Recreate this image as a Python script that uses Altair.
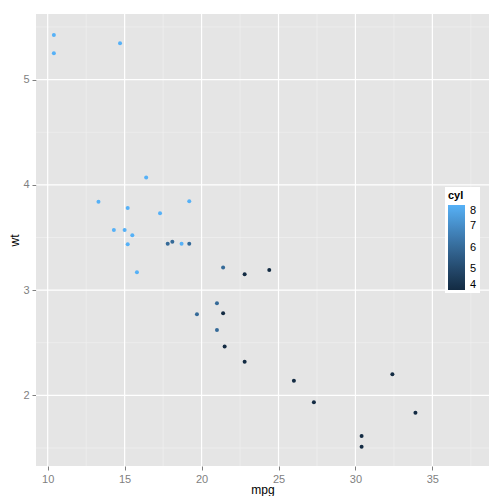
import altair as alt
import pandas as pd

mpg = [21.0, 21.0, 22.8, 21.4, 18.7, 18.1, 14.3, 24.4, 22.8, 19.2, 17.8, 16.4, 17.3, 15.2, 10.4, 10.4,
       14.7, 32.4, 30.4, 33.9, 21.5, 15.5, 15.2, 13.3, 19.2, 27.3, 26.0, 30.4, 15.8, 19.7, 15.0, 21.4]
cyl = [6, 6, 4, 6, 8, 6, 8, 4, 4, 6, 6, 8, 8, 8, 8, 8,
       8, 4, 4, 4, 4, 8, 8, 8, 8, 4, 4, 4, 8, 6, 8, 4]
wt = [2.620, 2.875, 2.320, 3.215, 3.440, 3.460, 3.570, 3.190, 3.150, 3.440, 3.440, 4.070, 3.730, 3.780,
      5.250, 5.424, 5.345, 2.200, 1.615, 1.835, 2.465, 3.520, 3.435, 3.840, 3.845, 1.935, 2.140, 1.513,
      3.170, 2.770, 3.570, 2.780]

x_major = [10, 15, 20, 25, 30, 35]
x_minor = [12.5, 17.5, 22.5, 27.5, 32.5, 37.5]
y_major = [2, 3, 4, 5]
y_minor = [1.5, 2.5, 3.5, 4.5, 5.5]
legend_values = [4, 5, 6, 7, 8]

df = pd.DataFrame({"mpg": mpg, "wt": wt, "cyl": cyl})

xs = alt.Scale(domain=[9.24, 38.68], nice=False, zero=False)
ys = alt.Scale(domain=[1.329, 5.623], nice=False, zero=False)

vminor = alt.Chart(pd.DataFrame({"v": x_minor})).mark_rule(color="#F2F2F2", strokeWidth=0.6).encode(
    x=alt.X("v:Q", scale=xs))
hminor = alt.Chart(pd.DataFrame({"v": y_minor})).mark_rule(color="#F2F2F2", strokeWidth=0.6).encode(
    y=alt.Y("v:Q", scale=ys))
vmajor = alt.Chart(pd.DataFrame({"v": x_major})).mark_rule(color="white", strokeWidth=1.2).encode(
    x=alt.X("v:Q", scale=xs))
hmajor = alt.Chart(pd.DataFrame({"v": y_major})).mark_rule(color="white", strokeWidth=1.2).encode(
    y=alt.Y("v:Q", scale=ys))

pts = alt.Chart(df).mark_circle(size=16, opacity=1).encode(
    x=alt.X("mpg:Q", scale=xs, axis=alt.Axis(values=x_major, title="mpg", format="d",
                                              titleY=27, titleBaseline="alphabetic")),
    y=alt.Y("wt:Q", scale=ys, axis=alt.Axis(values=y_major, title="wt", format="d")),
    color=alt.Color("cyl:Q", scale=alt.Scale(domain=[4, 8], range=["#132B43", "#56B1F7"]),
                    legend=alt.Legend(orient="none", legendX=409, legendY=173, gradientLength=85,
                                      gradientThickness=17, values=legend_values, format="d",
                                      labelOverlap=False, labelBaseline="middle", labelOffset=5,
                                      fillColor="white", padding=3, titleFontSize=11,
                                      titleFontWeight="bold", labelFontSize=11, labelColor="black",
                                      titlePadding=4,
                                      direction="vertical", gradientStrokeWidth=0)),
)

chart = alt.layer(vminor, hminor, vmajor, hmajor, pts).properties(
    width=453, height=452,
    autosize=alt.AutoSizeParams(type="none"),
    padding={"left": 28, "top": 6, "right": 7, "bottom": 30},
).configure_view(fill="#E5E5E5", stroke=None).configure_axis(
    grid=False, domain=False, tickColor="#7F7F7F", tickSize=4, labelColor="#7F7F7F",
    labelFontSize=11, labelFont="Liberation Sans", titleFont="Liberation Sans",
    titleFontSize=12, titleFontWeight="normal", titleColor="black", labelPadding=3
).configure_axisY(titlePadding=1).configure_legend(
    titleFont="Liberation Sans", labelFont="Liberation Sans")

chart.save("out.html", embed_options={"renderer": "svg", "actions": False})
